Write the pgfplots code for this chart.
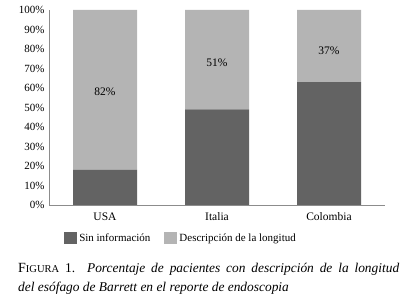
\documentclass[border=0pt]{standalone}
\usepackage{pgfplots}
\pgfplotsset{compat=1.18}
\usepackage{fontspec}
\setmainfont{Liberation Serif}
\definecolor{darkbar}{HTML}{636363}
\definecolor{lightbar}{HTML}{B4B4B4}
\definecolor{axgray}{HTML}{8C8C8C}
\begin{document}
\begin{tikzpicture}
\path[use as bounding box] (0,0) rectangle (415pt,299pt);
\begin{axis}[
  at={(49pt,94pt)}, anchor=south west,
  scale only axis, width=336pt, height=195pt,
  ybar stacked, bar width=64pt,
  xmin=-0.5, xmax=2.5, ymin=0, ymax=100,
  xtick={0,1,2}, xticklabels={USA,Italia,Colombia},
  ytick={0,10,...,100},
  yticklabels={0\%,10\%,20\%,30\%,40\%,50\%,60\%,70\%,80\%,90\%,100\%},
  axis x line=bottom, axis y line=left,
  axis line style={-, draw=axgray, line width=0.8pt},
  major tick length=0pt,
  x tick label style={font=\fontsize{11.5}{13}\selectfont, yshift=-4pt},
  y tick label style={font=\fontsize{11}{13}\selectfont, xshift=-1pt},
  legend style={at={(rel axis cs:0.393,-0.169)}, anchor=center, draw=none,
    font=\fontsize{11}{13}\selectfont, legend columns=2,
    /tikz/every even column/.append style={column sep=12pt}},
  legend image code/.code={\fill[#1] (0pt,-6pt) rectangle (13pt,6pt);},
]
\addplot[fill=darkbar, draw=none] coordinates {(0,18) (1,49) (2,63)};
\addplot[fill=lightbar, draw=none] coordinates {(0,82) (1,51) (2,37)};
\legend{Sin información, Descripción de la longitud}
\coordinate (l1) at (axis cs:0,58);
\coordinate (l2) at (axis cs:1,73);
\coordinate (l3) at (axis cs:2,79);
\end{axis}
\node[font=\fontsize{11.5}{13}\selectfont] at (l1) {82\%};
\node[font=\fontsize{11.5}{13}\selectfont] at (l2) {51\%};
\node[font=\fontsize{11.5}{13}\selectfont] at (l3) {37\%};
\node[anchor=north west, text width=381pt, align=justify, inner sep=0pt,
  font=\fontsize{13.4}{19}\selectfont] at (18pt,36pt)
  {{\fontsize{14}{19}\selectfont F\fontsize{10.5}{19}\selectfont IGURA} 1. \textit{Porcentaje de pacientes con descripción de la longitud\linebreak del esófago de Barrett en el reporte de endoscopia}};
\end{tikzpicture}
\end{document}
